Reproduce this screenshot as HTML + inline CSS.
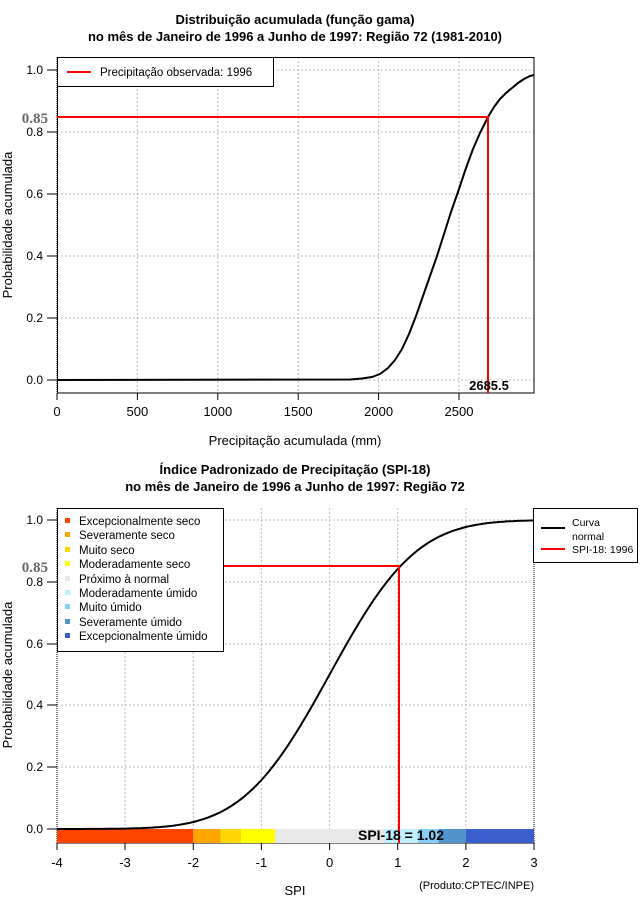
<!DOCTYPE html>
<html><head><meta charset="utf-8"><style>
body{margin:0;background:#fff}
svg{display:block;font-family:"Liberation Sans",sans-serif}
</style></head><body>
<svg id="s" width="640" height="900" xmlns="http://www.w3.org/2000/svg">
<rect width="640" height="900" fill="#fff"/>
<g font-weight="bold" font-size="13" text-anchor="middle">
<text x="295" y="24">Distribuição acumulada (função gama)</text>
<text x="295" y="41">no mês de Janeiro de 1996 a Junho de 1997: Região 72 (1981-2010)</text>
<text x="295" y="474">Índice Padronizado de Precipitação (SPI-18)</text>
<text x="295" y="491">no mês de Janeiro de 1996 a Junho de 1997: Região 72</text>
</g>
<g stroke="#bbb" stroke-dasharray="2,2" stroke-width="1">
<line x1="57" y1="70" x2="534" y2="70"/><line x1="57" y1="132" x2="534" y2="132"/>
<line x1="57" y1="194" x2="534" y2="194"/><line x1="57" y1="256" x2="534" y2="256"/>
<line x1="57" y1="318" x2="534" y2="318"/><line x1="57" y1="380" x2="534" y2="380"/>
<line x1="137.4" y1="57" x2="137.4" y2="393"/><line x1="217.8" y1="57" x2="217.8" y2="393"/>
<line x1="298.2" y1="57" x2="298.2" y2="393"/><line x1="378.6" y1="57" x2="378.6" y2="393"/>
<line x1="459" y1="57" x2="459" y2="393"/>
</g>
<rect x="57.5" y="57.5" width="476.5" height="335.5" fill="none" stroke="#000"/>
<line x1="57" y1="57" x2="57" y2="393" stroke="#000" stroke-dasharray="1,1"/>
<g stroke="#000">
<line x1="47" y1="70" x2="57" y2="70"/><line x1="47" y1="132" x2="57" y2="132"/><line x1="47" y1="194" x2="57" y2="194"/>
<line x1="47" y1="256" x2="57" y2="256"/><line x1="47" y1="318" x2="57" y2="318"/><line x1="47" y1="380" x2="57" y2="380"/>
<line x1="57" y1="393" x2="57" y2="400"/><line x1="137.4" y1="393" x2="137.4" y2="400"/><line x1="217.8" y1="393" x2="217.8" y2="400"/>
<line x1="298.2" y1="393" x2="298.2" y2="400"/><line x1="378.6" y1="393" x2="378.6" y2="400"/><line x1="459" y1="393" x2="459" y2="400"/>
</g>
<g font-size="12" text-anchor="end">
<text x="43" y="74">1.0</text><text x="43" y="136">0.8</text><text x="43" y="198">0.6</text>
<text x="43" y="260">0.4</text><text x="43" y="322">0.2</text><text x="43" y="384">0.0</text>
</g>
<g font-size="13" text-anchor="middle">
<text x="57" y="416">0</text><text x="137.4" y="416">500</text><text x="217.8" y="416">1000</text>
<text x="298.2" y="416">1500</text><text x="378.6" y="416">2000</text><text x="459" y="416">2500</text>
<text x="295" y="445">Precipitação acumulada (mm)</text>
<text x="295" y="895">SPI</text>
</g>
<text transform="translate(12,225) rotate(-90)" font-size="13" text-anchor="middle">Probabilidade acumulada</text>
<text transform="translate(12,675) rotate(-90)" font-size="13" text-anchor="middle">Probabilidade acumulada</text>
<polyline fill="none" stroke="#000" stroke-width="2" stroke-linejoin="round" points="57,380 350,379.5 362,378.5 372,377 380,374 388,368 395,360 402,349 409,334 416,316 423,296 430,276 437,256 444,234 451,212 459,189 466,168 473,149 480,133 488,117 494,107 500,99 506,93 512,88 518,83 524,79 530,76 534,75"/>
<polyline fill="none" stroke="#f00" stroke-width="2" points="57,117 488,117 488,393"/>
<text x="48" y="123" font-family="Liberation Serif,serif" font-weight="bold" font-size="15" fill="#666" text-anchor="end">0.85</text>
<text x="489" y="390" font-size="13" text-anchor="middle" font-weight="bold">2685.5</text>
<rect x="57.5" y="57.5" width="216" height="29" fill="#fff" stroke="#000"/>
<line x1="67" y1="72" x2="91" y2="72" stroke="#f00" stroke-width="2"/>
<text x="100" y="76" font-size="11.5">Precipitação observada: 1996</text>

<g stroke="#bbb" stroke-dasharray="2,2">
<line x1="57" y1="520" x2="534" y2="520"/><line x1="57" y1="582" x2="534" y2="582"/><line x1="57" y1="644" x2="534" y2="644"/>
<line x1="57" y1="705" x2="534" y2="705"/><line x1="57" y1="767" x2="534" y2="767"/>
<line x1="125" y1="508" x2="125" y2="843"/><line x1="193.3" y1="508" x2="193.3" y2="843"/><line x1="261.4" y1="508" x2="261.4" y2="843"/>
<line x1="329.6" y1="508" x2="329.6" y2="843"/><line x1="397.7" y1="508" x2="397.7" y2="843"/><line x1="465.9" y1="508" x2="465.9" y2="843"/>
</g>
<line x1="57" y1="508" x2="57" y2="843" stroke="#000" stroke-dasharray="1,1"/>
<line x1="534" y1="508" x2="534" y2="843" stroke="#000" stroke-dasharray="1,1"/>
<g stroke="#000">
<line x1="47" y1="520" x2="57" y2="520"/><line x1="47" y1="582" x2="57" y2="582"/><line x1="47" y1="644" x2="57" y2="644"/>
<line x1="47" y1="705" x2="57" y2="705"/><line x1="47" y1="767" x2="57" y2="767"/><line x1="47" y1="829" x2="57" y2="829"/>
<line x1="57" y1="843" x2="534" y2="843"/>
<line x1="57" y1="843" x2="57" y2="850"/><line x1="125" y1="843" x2="125" y2="850"/><line x1="193.3" y1="843" x2="193.3" y2="850"/>
<line x1="261.4" y1="843" x2="261.4" y2="850"/><line x1="329.6" y1="843" x2="329.6" y2="850"/><line x1="397.7" y1="843" x2="397.7" y2="850"/>
<line x1="465.9" y1="843" x2="465.9" y2="850"/><line x1="534" y1="843" x2="534" y2="850"/>
</g>
<g font-size="12" text-anchor="end">
<text x="43" y="524">1.0</text><text x="43" y="586">0.8</text><text x="43" y="648">0.6</text>
<text x="43" y="709">0.4</text><text x="43" y="771">0.2</text><text x="43" y="833">0.0</text>
</g>
<g font-size="13" text-anchor="middle">
<text x="57" y="867">-4</text><text x="125" y="867">-3</text><text x="193.3" y="867">-2</text><text x="261.4" y="867">-1</text>
<text x="329.6" y="867">0</text><text x="397.7" y="867">1</text><text x="465.9" y="867">2</text><text x="534" y="867">3</text>
</g>
<text x="534" y="889" font-size="11" text-anchor="end">(Produto:CPTEC/INPE)</text>
<g>
<rect x="57" y="829" width="136.3" height="14" fill="#ff4500"/>
<rect x="193.3" y="829" width="27.3" height="14" fill="#ffa500"/>
<rect x="220.6" y="829" width="20.4" height="14" fill="#ffd700"/>
<rect x="241" y="829" width="34.1" height="14" fill="#ffff00"/>
<rect x="275.1" y="829" width="109" height="14" fill="#e8e8e8"/>
<rect x="384.1" y="829" width="34.1" height="14" fill="#bfefff"/>
<rect x="418.2" y="829" width="20.4" height="14" fill="#87cefa"/>
<rect x="438.6" y="829" width="27.3" height="14" fill="#4f94cd"/>
<rect x="465.9" y="829" width="68.1" height="14" fill="#3a5fcd"/>
</g>
<polyline id="nc" fill="none" stroke="#000" stroke-width="2" points=""/>
<polyline fill="none" stroke="#f00" stroke-width="2" points="57,566 399,566 399,843"/>
<text x="48" y="572" font-family="Liberation Serif,serif" font-weight="bold" font-size="15" fill="#666" text-anchor="end">0.85</text>
<text x="401" y="840" font-size="14" font-weight="bold" text-anchor="middle">SPI-18 = 1.02</text>
<rect x="57.5" y="508.5" width="166" height="143" fill="#fff" stroke="#000"/>
<g font-size="11.5">
<rect x="65" y="518" width="5" height="5" fill="#ff4500"/><text x="79" y="525">Excepcionalmente seco</text>
<rect x="65" y="532" width="5" height="5" fill="#ffa500"/><text x="79" y="539">Severamente seco</text>
<rect x="65" y="547" width="5" height="5" fill="#ffd700"/><text x="79" y="554">Muito seco</text>
<rect x="65" y="561" width="5" height="5" fill="#ffff00"/><text x="79" y="568">Moderadamente seco</text>
<rect x="65" y="576" width="5" height="5" fill="#e8e8e8"/><text x="79" y="583">Próximo à normal</text>
<rect x="65" y="590" width="5" height="5" fill="#bfefff"/><text x="79" y="597">Moderadamente úmido</text>
<rect x="65" y="604" width="5" height="5" fill="#87cefa"/><text x="79" y="611">Muito úmido</text>
<rect x="65" y="619" width="5" height="5" fill="#4f94cd"/><text x="79" y="626">Severamente úmido</text>
<rect x="65" y="633" width="5" height="5" fill="#3a5fcd"/><text x="79" y="640">Excepcionalmente úmido</text>
</g>
<rect x="533.5" y="508.5" width="104" height="54" fill="#fff" stroke="#000"/>
<line x1="541" y1="528" x2="565" y2="528" stroke="#000" stroke-width="2"/>
<line x1="541" y1="549" x2="565" y2="549" stroke="#f00" stroke-width="2"/>
<g font-size="10.5"><text x="572" y="526">Curva</text><text x="572" y="540">normal</text><text x="572" y="553">SPI-18: 1996</text></g>
</svg>
<script>
function erf(x){var s=x<0?-1:1;x=Math.abs(x);var t=1/(1+0.3275911*x);var y=1-(((((1.061405429*t-1.453152027)*t)+1.421413741)*t-0.284496736)*t+0.254829592)*t*Math.exp(-x*x);return s*y;}
var p=[];for(var z=-4;z<=3.0001;z+=0.05){var P=0.5*(1+erf(z/Math.SQRT2));p.push((329.6+68.14*z).toFixed(1)+","+(829-309*P).toFixed(1));}
document.getElementById("nc").setAttribute("points",p.join(" "));
</script>
</body></html>
